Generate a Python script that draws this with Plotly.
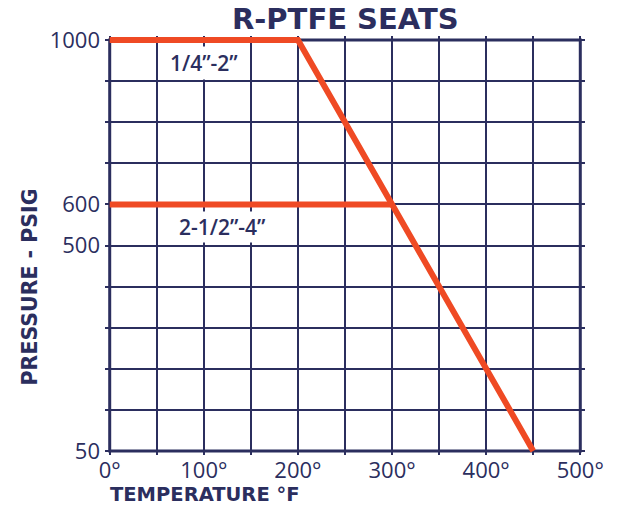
import plotly.graph_objects as go

# Data (temperature in °F, pressure on the chart's scale)
temp_small = [0, 200, 450]
pres_small = [1000, 1000, 0]
temp_large = [0, 300]
pres_large = [600, 600]

x_ticks = [0, 50, 100, 150, 200, 250, 300, 350, 400, 450, 500]
x_ticktext = ["0°", "", "100°", "", "200°", "", "300°", "", "400°", "", "500°"]
y_ticks = [0, 100, 200, 300, 400, 500, 600, 700, 800, 900, 1000]
y_ticktext = ["50", "", "", "", "", "500", "600", "", "", "", "1000"]

series_labels = ['1/4”-2”', '2-1/2”-4”']
label_x = [100, 120]
label_y = [945, 545]

NAVY = "#2b2e5e"
RED = "#ef4a24"
FONT = "Open Sans"
TFONT = "DejaVu Sans"

fig = go.Figure()
fig.add_trace(go.Scatter(x=temp_small, y=pres_small, mode="lines",
                         line=dict(color=RED, width=6), hoverinfo="skip"))
fig.add_trace(go.Scatter(x=temp_large, y=pres_large, mode="lines",
                         line=dict(color=RED, width=6), hoverinfo="skip"))

# plot border along the outer gridlines
fig.add_shape(type="rect", xref="x", yref="y",
              x0=min(x_ticks), x1=max(x_ticks), y0=min(y_ticks), y1=max(y_ticks),
              line=dict(color=NAVY, width=3), layer="below")

for txt, lx, ly, pad in zip(series_labels, label_x, label_y, [2, 1]):
    fig.add_annotation(x=lx, y=ly, text=txt, showarrow=False,
                       font=dict(family=FONT, size=21, color=NAVY, weight=600),
                       bgcolor="white", borderpad=pad)

fig.add_annotation(text="R-PTFE SEATS", xref="paper", yref="paper",
                   x=0.5, y=1, yanchor="middle", yshift=17, showarrow=False,
                   font=dict(family=TFONT, size=29, color=NAVY, weight=700))
fig.add_annotation(text="TEMPERATURE °F", xref="paper", yref="paper",
                   x=0, xanchor="left", y=0, yanchor="middle", yshift=-39,
                   xshift=3, showarrow=False,
                   font=dict(family=TFONT, size=19.5, color=NAVY, weight=700))
fig.add_annotation(text="PRESSURE - PSIG", xref="paper", yref="paper",
                   x=0, xshift=-89, y=0.40, textangle=-90, showarrow=False,
                   font=dict(family=TFONT, size=20.5, color=NAVY, weight=700))

fig.update_xaxes(range=[-5, 505], tickvals=x_ticks, ticktext=x_ticktext,
                 showgrid=True, gridcolor=NAVY, gridwidth=2, zeroline=False,
                 showline=False, ticks="", ticklabelstandoff=0,
                 tickfont=dict(family=FONT, size=22, color=NAVY, weight=500))
fig.update_yaxes(range=[-10, 1010], tickvals=y_ticks, ticktext=y_ticktext,
                 showgrid=True, gridcolor=NAVY, gridwidth=2, zeroline=False,
                 showline=False, ticks="", ticklabelstandoff=4,
                 tickfont=dict(family=FONT, size=22, color=NAVY, weight=500))

fig.update_layout(width=620, height=512, showlegend=False,
                  paper_bgcolor="white", plot_bgcolor="white",
                  margin=dict(l=105, r=35, t=36, b=57))

fig.write_html("out.html", config={"displayModeBar": False},
               post_script="document.body.style.margin='0px';")
